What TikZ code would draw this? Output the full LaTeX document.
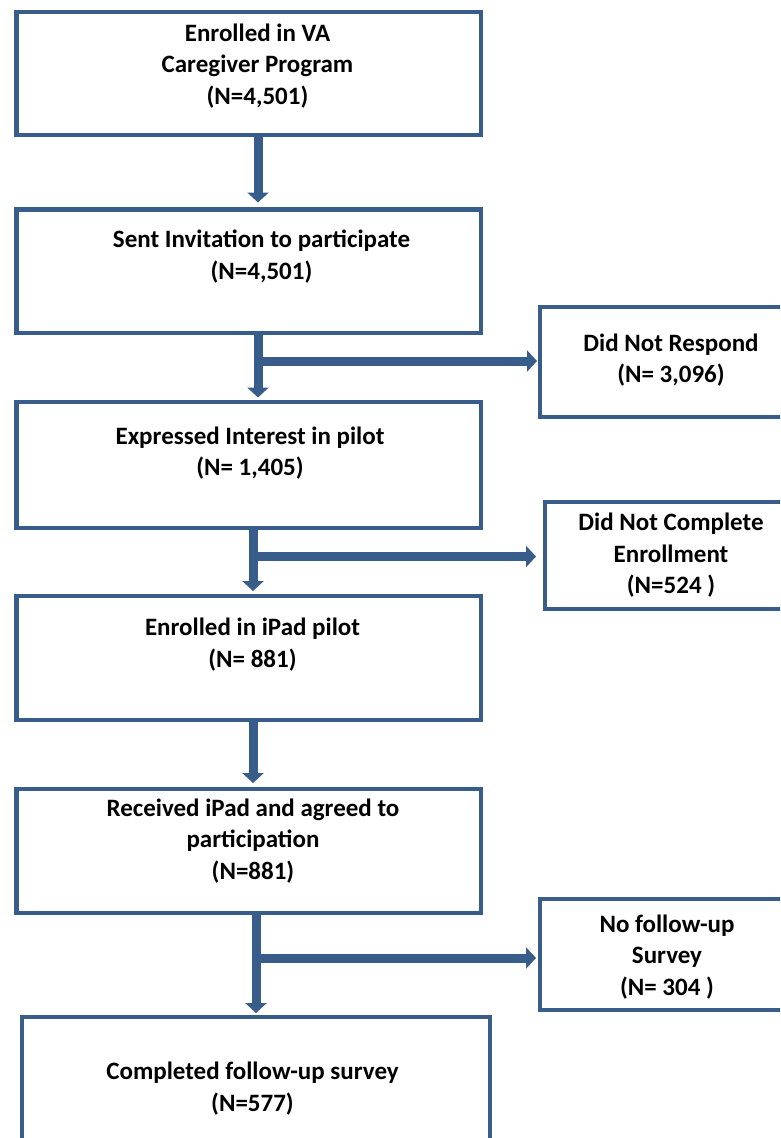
\documentclass[tikz,border=0pt]{standalone}
\usepackage{fontspec}
\setmainfont{Carlito}
\usetikzlibrary{arrows.meta}
\definecolor{frame}{HTML}{385D8A}
\tikzset{
  box/.style={draw=frame, line width=4.5pt, inner sep=0pt, outer sep=0pt},
  lbl/.style={align=center, inner sep=0pt, font=\fontsize{25}{31.5}\selectfont\bfseries, text=black},
  arr/.style={draw=frame, line width=9pt, -{Triangle[width=21pt,length=10pt]}},
}
\begin{document}
\begin{tikzpicture}[x=1pt,y=-1pt]
\useasboundingbox (0,0) rectangle (780,1138);
\clip (0,0) rectangle (780,1138);
\fill[white] (0,0) rectangle (780,1138);
% main boxes
\node[box, minimum width=464.5pt, minimum height=123pt] (b1) at (248.75,73.5) {};
\node[box, minimum width=464.5pt, minimum height=123.5pt] (b2) at (248.75,271.25) {};
\node[box, minimum width=464.5pt, minimum height=126pt] (b3) at (248.75,465) {};
\node[box, minimum width=464.5pt, minimum height=124pt] (b4) at (248.75,658) {};
\node[box, minimum width=464.5pt, minimum height=124pt] (b5) at (248.75,851) {};
\node[box, minimum width=468pt, minimum height=160pt] (b6) at (256,1097) {};
% side boxes
\node[box, minimum width=260pt, minimum height=110pt] (s1) at (670,362) {};
\node[box, minimum width=255pt, minimum height=107pt] (s2) at (672.5,555.5) {};
\node[box, minimum width=260pt, minimum height=111pt] (s3) at (670,954.5) {};
% labels
\node[lbl] (t1) at (257.5,66) {Enrolled in VA\\Caregiver Program\\(N=4,501)};
\node[lbl] (t2) at (261.5,256.5) {Sent Invitation to participate\\(N=4,501)};
\node[lbl] (t3) at (250,453) {Expressed Interest in pilot\\(N= 1,405)};
\node[lbl] (t4) at (252.5,644.5) {Enrolled in iPad pilot\\(N= 881)};
\node[lbl] (t5) at (253,841) {Received iPad and agreed to\\participation\\(N=881)};
\node[lbl] (t6) at (252.5,1088.5) {Completed follow-up survey\\(N=577)};
\node[lbl] (u1) at (671,360) {Did Not Respond\\(N= 3,096)};
\node[lbl] (u2) at (671,555.5) {Did Not Complete\\Enrollment\\(N=524 )};
\node[lbl] (u3) at (667,957) {No follow-up\\Survey\\(N= 304 )};
% vertical connectors (yshift is in page units: positive = upwards)
\draw[arr] ([xshift=9.25pt]b1.south) -- ([xshift=9.25pt,yshift=7pt]b2.north);
\draw[arr] ([xshift=9.25pt]b2.south) -- ([xshift=9.25pt,yshift=4.5pt]b3.north);
\draw[arr] ([xshift=4.25pt]b3.south) -- ([xshift=4.25pt,yshift=5pt]b4.north);
\draw[arr] ([xshift=4.25pt]b4.south) -- ([xshift=4.25pt,yshift=6pt]b5.north);
\draw[arr] ([xshift=7.25pt]b5.south) -- ([xshift=0pt,yshift=4pt]b6.north);
% branch connectors
\coordinate (j1) at (254,361);
\coordinate (j2) at (249,556.5);
\coordinate (j3) at (252,958);
\draw[arr] (j1) -- ([xshift=-3pt]s1.west |- j1);
\draw[arr] (j2) -- ([xshift=-9pt]s2.west |- j2);
\draw[arr] (j3) -- ([xshift=-4pt]s3.west |- j3);
\end{tikzpicture}
\end{document}
